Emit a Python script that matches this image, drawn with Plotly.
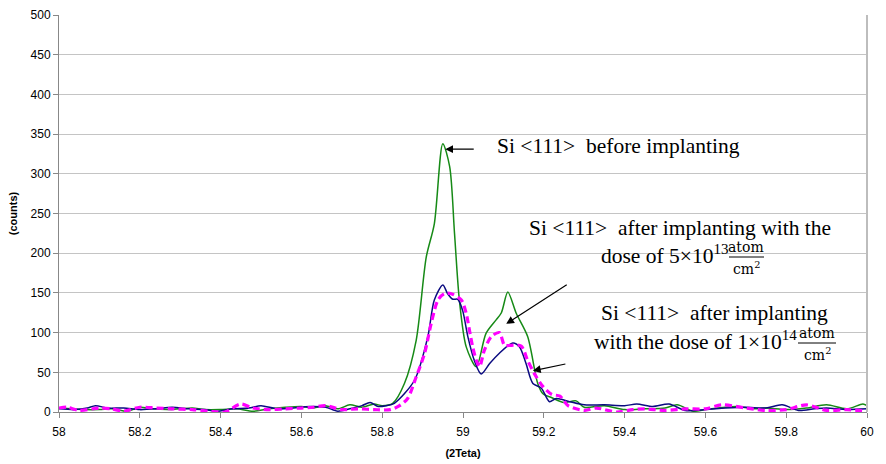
import plotly.graph_objects as go

# ---------------- data ----------------
green_x = [58.00, 58.03, 58.06, 58.10, 58.13, 58.17, 58.20, 58.23, 58.27, 58.30, 58.33, 58.36,
           58.40, 58.44, 58.48, 58.52, 58.56, 58.60, 58.63, 58.66, 58.69, 58.72, 58.75, 58.78,
           58.80, 58.826, 58.855, 58.884, 58.909, 58.929, 58.950, 58.967, 58.979, 58.991, 59.008,
           59.033, 59.057, 59.082, 59.095, 59.111, 59.132, 59.160, 59.185, 59.198, 59.22, 59.25,
           59.28, 59.30, 59.35, 59.40, 59.45, 59.50, 59.53, 59.57, 59.60, 59.63, 59.68, 59.72,
           59.75, 59.80, 59.85, 59.90, 59.95, 59.99, 60.00]
green_y = [5, 4, 3, 3, 4, 1, 6, 4, 3, 4, 5, 3,
           3, 4, 1, 4, 6, 7, 5, 8, 4, 9, 6, 10,
           8, 11, 36, 90, 195, 237, 338, 309, 225, 141, 82,
           57, 99, 116, 125, 151, 124, 95, 36, 23, 18, 12,
           14, 6, 8, 3, 4, 5, 9, 1, 3, 5, 7, 4,
           5, 3, 5, 9, 4, 10, 8]

blue_x = [58.00, 58.04, 58.07, 58.09, 58.12, 58.16, 58.20, 58.24, 58.28, 58.32, 58.36, 58.39,
          58.43, 58.47, 58.50, 58.54, 58.58, 58.62, 58.66, 58.69, 58.72, 58.75, 58.77, 58.79,
          58.81, 58.83, 58.88, 58.913, 58.929, 58.950, 58.962, 58.975, 58.987, 58.999, 59.012,
          59.028, 59.045, 59.066, 59.090, 59.123, 59.140, 59.156, 59.173, 59.194, 59.214, 59.231,
          59.264, 59.30, 59.35, 59.40, 59.43, 59.47, 59.51, 59.55, 59.60, 59.65, 59.70, 59.75,
          59.79, 59.83, 59.87, 59.90, 59.95, 60.00]
blue_y = [4, 3, 5, 8, 5, 5, 3, 4, 6, 4, 3, 1,
          4, 5, 8, 4, 5, 7, 6, 1, 4, 8, 12, 7,
          8, 11, 40, 95, 141, 160, 149, 142, 142, 128, 95,
          65, 48, 61, 74, 87, 82, 61, 36, 30, 13, 17,
          13, 9, 9, 8, 10, 7, 10, 2, 3, 5, 6, 5,
          9, 2, 4, 5, 3, 4]

magenta_x = [58.00, 58.02, 58.05, 58.10, 58.13, 58.16, 58.20, 58.24, 58.28, 58.33, 58.37, 58.41,
             58.45, 58.48, 58.52, 58.56, 58.60, 58.63, 58.66, 58.70, 58.74, 58.78, 58.82, 58.843,
             58.863, 58.884, 58.905, 58.921, 58.938, 58.954, 58.971, 58.996, 59.008, 59.016, 59.024,
             59.033, 59.041, 59.053, 59.070, 59.090, 59.103, 59.119, 59.144, 59.160, 59.177, 59.198,
             59.22, 59.24, 59.26, 59.30, 59.33, 59.38, 59.42, 59.45, 59.50, 59.55, 59.60, 59.64,
             59.70, 59.75, 59.80, 59.85, 59.90, 59.95, 60.00]
magenta_y = [5, 6, 2, 5, 4, 1, 6, 5, 4, 3, 1, 0,
             10, 5, 3, 4, 5, 6, 8, 3, 4, 3, 3, 8,
             17, 44, 74, 111, 141, 149, 149, 141, 124, 103, 82,
             65, 57, 78, 95, 100, 84, 84, 83, 65, 48, 32,
             22, 20, 8, 2, 5, 0, 3, 4, 2, 4, 4, 9,
             5, 2, 3, 9, 2, 3, 1]

x_range = [58, 60]
y_range = [0, 500]

label_before = "Si &lt;111&gt;\u00a0 before implanting"
label_dose1_line1 = "Si &lt;111&gt;\u00a0 after implanting with the"
label_dose1_line2 = "dose of 5\u00d710<sup>13</sup>"
label_dose2_line1 = "Si &lt;111&gt;\u00a0 after implanting"
label_dose2_line2 = "with the dose of 1\u00d710<sup>14</sup>"
frac_num = "atom"
frac_den = "cm<sup>2</sup>"

# ---------------- layout helpers ----------------
W, H = 886, 464
ML, MR, MT, MB = 59, 19, 15, 52
PW, PH = W - ML - MR, H - MT - MB


def px(x):
    return (x - ML) / PW


def py(y):
    return (H - MB - y) / PH


fig = go.Figure()
fig.add_trace(go.Scatter(x=green_x, y=green_y, mode="lines", name="before",
                         line=dict(color="#168a16", width=1.5, shape="spline", smoothing=0.8)))
fig.add_trace(go.Scatter(x=blue_x, y=blue_y, mode="lines", name="1e14",
                         line=dict(color="#0a0a80", width=1.5, shape="spline", smoothing=0.8)))
fig.add_trace(go.Scatter(x=magenta_x, y=magenta_y, mode="lines", name="5e13",
                         line=dict(color="#ff00ff", width=3.2, dash="7px,4px", shape="spline", smoothing=0.8)))

serif = dict(family="Liberation Serif, Times New Roman, serif", size=21.5, color="#000000")
math = dict(family="DejaVu Serif, serif", size=14, color="#000000")

shapes = []
# white text boxes covering gridlines (between grid and traces)
for (x0, x1, y0, y1) in [(475, 760, 125, 185), (495, 858, 200, 278), (567, 858, 285, 367)]:
    shapes.append(dict(type="rect", xref="paper", yref="paper", x0=px(x0), x1=px(x1),
                       y0=py(y1), y1=py(y0), fillcolor="white", line=dict(width=0), layer="between"))
# fraction bars
for (x0, x1, y) in [(729, 764, 257), (798, 836, 343)]:
    shapes.append(dict(type="line", xref="paper", yref="paper", x0=px(x0), x1=px(x1),
                       y0=py(y), y1=py(y), line=dict(color="black", width=1), layer="above"))
# right border
shapes.append(dict(type="line", xref="paper", yref="paper", x0=1, x1=1, y0=0, y1=1,
                   line=dict(color="#bdbdbd", width=2), layer="above"))

annotations = [
    dict(text=label_before, xref="paper", yref="paper", x=px(618), y=py(146),
         xanchor="center", yanchor="middle", showarrow=False, font=serif),
    dict(text=label_dose1_line1, xref="paper", yref="paper", x=px(680), y=py(228),
         xanchor="center", yanchor="middle", showarrow=False, font=serif),
    dict(text=label_dose1_line2, xref="paper", yref="paper", x=px(731), y=py(254),
         xanchor="right", yanchor="middle", showarrow=False, font=serif),
    dict(text=frac_num, xref="paper", yref="paper", x=px(746), y=py(247),
         xanchor="center", yanchor="middle", showarrow=False, font=math),
    dict(text=frac_den, xref="paper", yref="paper", x=px(746), y=py(268),
         xanchor="center", yanchor="middle", showarrow=False, font=math),
    dict(text=label_dose2_line1, xref="paper", yref="paper", x=px(714), y=py(313),
         xanchor="center", yanchor="middle", showarrow=False, font=serif),
    dict(text=label_dose2_line2, xref="paper", yref="paper", x=px(799), y=py(340),
         xanchor="right", yanchor="middle", showarrow=False, font=serif),
    dict(text=frac_num, xref="paper", yref="paper", x=px(817), y=py(333),
         xanchor="center", yanchor="middle", showarrow=False, font=math),
    dict(text=frac_den, xref="paper", yref="paper", x=px(817), y=py(354),
         xanchor="center", yanchor="middle", showarrow=False, font=math),
    # arrows
    dict(text="", x=58.956, y=331, xref="x", yref="y", ax=30, ay=0, showarrow=True,
         arrowhead=2, arrowsize=1.3, arrowwidth=1.2, arrowcolor="black"),
    dict(text="", x=59.107, y=111, xref="x", yref="y", ax=62, ay=-40, showarrow=True,
         arrowhead=2, arrowsize=1.3, arrowwidth=1.2, arrowcolor="black"),
    dict(text="", x=59.173, y=52, xref="x", yref="y", ax=34, ay=-7, showarrow=True,
         arrowhead=2, arrowsize=1.3, arrowwidth=1.2, arrowcolor="black"),
]

axis_font = dict(family="Liberation Sans, Arial, sans-serif", size=12, color="#000000")
title_font = dict(family="Liberation Sans, Arial, sans-serif", size=11, color="#000000")

fig.update_layout(
    width=W, height=H,
    margin=dict(l=ML, r=MR, t=MT, b=MB, autoexpand=False),
    paper_bgcolor="white", plot_bgcolor="white",
    showlegend=False,
    shapes=shapes, annotations=annotations,
    xaxis=dict(range=x_range, dtick=0.2, tick0=58, showgrid=False, zeroline=False,
               showline=True, linecolor="#888888", linewidth=1,
               ticks="outside", ticklen=5, tickcolor="#888888", tickfont=axis_font,
               ticklabelstandoff=4,
               title=dict(text="<b>(2Teta)</b>", font=title_font, standoff=10)),
    yaxis=dict(range=y_range, dtick=50, showgrid=True, gridcolor="#c4c4c4", gridwidth=1,
               zeroline=False, showline=True, linecolor="#888888", linewidth=1,
               ticks="outside", ticklen=5, tickcolor="#888888", tickfont=axis_font,
               title=dict(text="<b>(counts)</b>", font=title_font, standoff=10)),
)

fig.write_html("out.html")
